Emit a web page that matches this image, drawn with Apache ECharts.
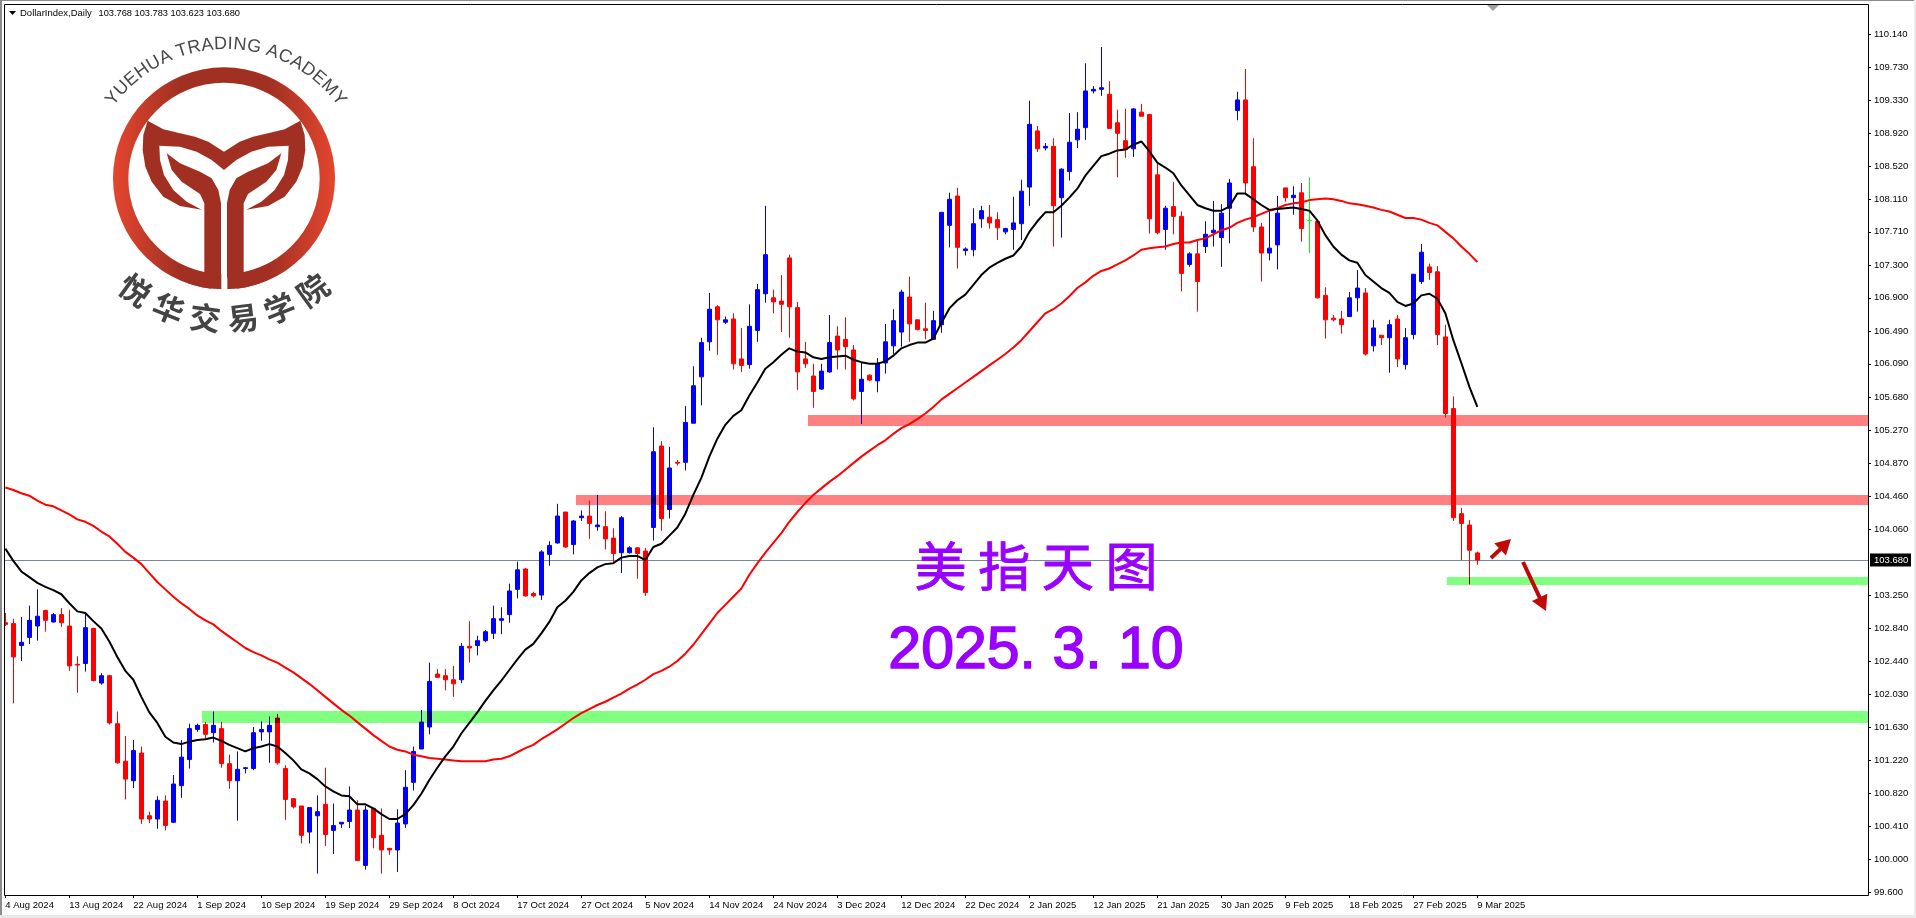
<!DOCTYPE html>
<html>
<head>
<meta charset="utf-8">
<title>DollarIndex,Daily</title>
<style>
html, body { margin: 0; padding: 0; background: #fff; }
#main { width: 1916px; height: 918px; }
</style>
<script src="https://cdn.jsdelivr.net/npm/echarts@6/dist/echarts.min.js"></script>
</head>
<body>
<div id="main"></div>
<script>
// labels under the chart, one every 8 bars
const tickDates = ['4 Aug 2024', '13 Aug 2024', '22 Aug 2024', '1 Sep 2024', '10 Sep 2024', '19 Sep 2024', '29 Sep 2024', '8 Oct 2024',
    '17 Oct 2024', '27 Oct 2024', '5 Nov 2024', '14 Nov 2024', '24 Nov 2024', '3 Dec 2024', '12 Dec 2024', '22 Dec 2024',
    '2 Jan 2025', '12 Jan 2025', '21 Jan 2025', '30 Jan 2025', '9 Feb 2025', '18 Feb 2025', '27 Feb 2025', '9 Mar 2025'];
const priceTicks = [110.14, 109.73, 109.33, 108.92, 108.52, 108.11, 107.71, 107.30, 106.90, 106.49, 106.09, 105.68, 105.27, 104.87,
    104.46, 104.06, 103.25, 102.84, 102.44, 102.03, 101.63, 101.22, 100.82, 100.41, 100.00, 99.60];

const opens = [102.91, 102.90, 102.63, 102.73, 102.87, 103.06, 102.92, 103.01, 102.87, 102.40,
    102.41, 102.84, 102.17, 102.26, 101.67, 101.21, 100.97, 101.31, 100.54, 100.50,
    100.72, 100.46, 100.91, 101.23, 101.60, 101.66, 101.56, 101.61, 101.18, 100.97,
    101.12, 101.12, 101.57, 101.57, 101.74, 101.12, 100.75, 100.66, 100.34, 100.54,
    100.68, 100.36, 100.44, 100.47, 100.61, 99.93, 100.63, 100.30, 100.14, 100.12,
    100.44, 100.95, 101.36, 101.63, 102.28, 102.26, 102.21, 102.21, 102.62, 102.63,
    102.69, 102.78, 102.94, 103.01, 103.32, 103.57, 103.27, 103.25, 103.75, 103.89,
    104.27, 103.87, 104.20, 104.22, 104.09, 104.09, 103.95, 103.77, 103.77, 103.83,
    103.79, 104.08, 105.08, 104.30, 104.88, 104.88, 105.36, 105.93, 106.36, 106.79,
    106.60, 106.64, 106.15, 106.08, 106.50, 106.95, 106.90, 106.86, 107.39, 106.78,
    106.15, 105.94, 105.78, 105.99, 106.43, 106.39, 106.26, 105.75, 105.95, 105.88,
    106.10, 106.31, 106.48, 106.91, 106.63, 106.52, 106.39, 106.57, 107.79, 108.15,
    107.48, 107.49, 107.87, 107.89, 107.86, 107.71, 107.74, 107.81, 108.26, 108.95,
    108.74, 108.76, 108.13, 108.45, 108.84, 108.99, 109.44, 109.46, 109.40, 109.05,
    108.83, 108.73, 109.18, 109.15, 108.41, 107.74, 108.02, 107.90, 107.31, 107.44,
    107.53, 107.70, 107.64, 108.00, 109.20, 109.33, 108.51, 107.77, 107.45, 107.55,
    108.25, 108.13, 108.19, 107.85, 107.84, 106.93, 106.65, 106.64, 106.67, 106.90,
    106.96, 106.31, 106.44, 106.41, 106.64, 106.08, 106.45, 107.10, 107.28, 107.22,
    106.42, 105.54, 104.25, 104.11, 103.768];
const closes = [102.89, 102.49, 102.67, 102.94, 102.99, 102.94, 103.01, 102.91, 102.38, 102.39,
    102.85, 102.20, 102.26, 101.68, 101.19, 100.99, 101.34, 100.50, 100.50, 100.73,
    100.42, 100.93, 101.26, 101.61, 101.65, 101.54, 101.65, 101.18, 100.97, 101.11,
    101.13, 101.56, 101.60, 101.65, 101.19, 100.74, 100.65, 100.30, 100.64, 100.59,
    100.31, 100.42, 100.46, 100.61, 99.99, 100.61, 100.27, 100.12, 100.12, 100.45,
    100.89, 101.33, 101.69, 102.19, 102.24, 102.21, 102.16, 102.62, 102.60, 102.69,
    102.80, 102.96, 102.96, 103.30, 103.56, 103.24, 103.24, 103.78, 103.86, 104.22,
    103.84, 104.16, 104.22, 104.13, 104.11, 103.94, 103.76, 104.20, 103.83, 103.76,
    103.28, 105.01, 104.19, 104.81, 104.87, 105.37, 105.82, 106.35, 106.76, 106.63,
    106.63, 106.09, 106.07, 106.55, 107.00, 107.43, 106.85, 106.82, 106.79, 105.99,
    106.09, 105.75, 106.00, 106.35, 106.26, 106.30, 105.66, 105.90, 105.89, 106.09,
    106.36, 106.62, 106.97, 106.58, 106.51, 106.50, 106.62, 107.95, 108.11, 107.52,
    107.50, 107.81, 107.97, 107.82, 107.76, 107.75, 107.82, 108.21, 109.03, 108.73,
    108.76, 108.03, 108.48, 108.81, 108.97, 109.44, 109.46, 109.48, 108.98, 108.92,
    108.72, 109.22, 109.13, 107.87, 107.70, 108.00, 107.90, 107.20, 107.44, 107.10,
    107.68, 107.73, 107.94, 108.31, 109.33, 108.31, 107.77, 107.45, 107.51, 107.94,
    108.13, 108.16, 107.75, 107.85, 106.90, 106.63, 106.63, 106.57, 106.90, 107.02,
    106.21, 106.53, 106.41, 106.57, 106.15, 106.41, 107.19, 107.46, 107.21, 106.45,
    105.48, 104.20, 104.13, 103.80, 103.680];
const lows = [102.87, 101.92, 102.44, 102.65, 102.69, 102.80, 102.91, 102.86, 102.32, 102.05,
    102.31, 102.19, 102.15, 101.66, 101.18, 100.74, 100.88, 100.44, 100.45, 100.38,
    100.36, 100.45, 100.76, 101.12, 101.57, 101.48, 101.44, 101.13, 100.87, 100.48,
    101.06, 101.10, 101.46, 101.19, 101.17, 100.49, 100.63, 100.20, 100.20, 99.83,
    100.17, 100.07, 100.39, 100.39, 99.99, 99.88, 100.14, 99.83, 100.06, 99.85,
    100.39, 100.85, 101.36, 101.54, 102.23, 102.08, 102.00, 102.17, 102.42, 102.51,
    102.67, 102.71, 102.77, 102.91, 103.21, 103.23, 103.22, 103.19, 103.61, 103.88,
    103.83, 103.75, 104.16, 103.94, 104.04, 103.81, 103.64, 103.52, 103.76, 103.45,
    103.24, 103.92, 104.04, 104.19, 104.84, 104.78, 105.36, 105.58, 106.25, 106.20,
    106.58, 106.02, 105.99, 106.03, 106.36, 106.84, 106.71, 106.48, 106.41, 105.77,
    106.04, 105.55, 105.77, 105.98, 106.02, 106.02, 105.64, 105.35, 105.88, 105.74,
    105.97, 106.21, 106.30, 106.36, 106.50, 106.39, 106.39, 106.47, 107.52, 107.26,
    107.42, 107.41, 107.76, 107.75, 107.61, 107.68, 107.49, 107.61, 108.03, 108.69,
    108.71, 107.53, 107.64, 108.34, 108.74, 108.84, 109.41, 109.38, 108.98, 108.38,
    108.62, 108.63, 109.13, 107.69, 107.68, 107.49, 107.68, 106.98, 107.28, 106.73,
    107.45, 107.53, 107.28, 107.57, 109.08, 108.18, 107.71, 107.10, 107.36, 107.25,
    108.08, 107.92, 107.59, 107.45, 106.89, 106.40, 106.61, 106.46, 106.67, 106.73,
    106.19, 106.24, 106.32, 105.98, 106.05, 106.02, 106.39, 107.07, 107.12, 106.32,
    105.43, 104.16, 103.68, 103.38, 103.623];
const highs = [103.03, 102.96, 102.98, 103.12, 103.32, 103.07, 103.03, 103.09, 103.07, 102.50,
    103.03, 102.85, 102.29, 102.27, 101.82, 101.52, 101.47, 101.39, 100.59, 100.78,
    100.79, 101.04, 101.47, 101.67, 101.67, 101.69, 101.82, 101.69, 101.29, 101.33,
    101.14, 101.63, 101.70, 101.76, 101.79, 101.16, 100.75, 100.66, 100.64, 100.79,
    101.13, 100.69, 100.46, 100.90, 100.73, 100.66, 100.63, 100.63, 100.14, 100.62,
    101.10, 101.39, 101.84, 102.42, 102.34, 102.34, 102.38, 102.66, 102.93, 102.75,
    102.82, 103.12, 103.10, 103.39, 103.66, 103.58, 103.29, 103.80, 103.91, 104.37,
    104.27, 104.17, 104.29, 104.41, 104.48, 104.28, 104.07, 104.22, 103.85, 103.84,
    103.83, 105.31, 105.14, 105.07, 104.91, 105.57, 106.06, 106.41, 106.96, 106.81,
    106.67, 106.71, 106.53, 106.82, 107.07, 108.03, 107.00, 107.18, 107.43, 106.85,
    106.36, 106.09, 106.09, 106.69, 106.55, 106.66, 106.32, 106.10, 105.96, 106.16,
    106.58, 106.76, 107.00, 107.16, 106.63, 106.84, 106.74, 107.95, 108.19, 108.25,
    107.52, 108.00, 108.03, 108.04, 107.95, 107.76, 108.14, 108.35, 109.32, 109.01,
    108.80, 108.86, 108.49, 109.17, 109.18, 109.78, 109.50, 109.98, 109.56, 109.21,
    109.22, 109.23, 109.28, 109.16, 108.55, 108.03, 108.32, 107.96, 107.46, 107.60,
    107.84, 108.09, 108.05, 108.36, 109.43, 109.71, 108.86, 107.82, 107.98, 108.15,
    108.25, 108.27, 108.31, 108.38, 107.84, 107.03, 106.69, 106.74, 106.97, 107.24,
    107.02, 106.63, 106.44, 106.63, 106.69, 106.53, 107.19, 107.56, 107.32, 107.29,
    106.57, 105.69, 104.32, 104.17, 103.783];

const maFast = [103.82, 103.67, 103.54, 103.47, 103.40, 103.35, 103.31, 103.26, 103.15, 103.05,
    103.03, 102.93, 102.84, 102.68, 102.49, 102.32, 102.21, 102.00, 101.81, 101.68,
    101.51, 101.44, 101.42, 101.45, 101.47, 101.48, 101.50, 101.46, 101.41, 101.37,
    101.33, 101.37, 101.39, 101.42, 101.39, 101.31, 101.22, 101.11, 101.06, 100.99,
    100.90, 100.84, 100.79, 100.78, 100.68, 100.68, 100.63, 100.56, 100.50, 100.50,
    100.56, 100.67, 100.81, 100.98, 101.13, 101.27, 101.39, 101.55, 101.68, 101.81,
    101.95, 102.08, 102.20, 102.33, 102.46, 102.58, 102.65, 102.78, 102.92, 103.10,
    103.18, 103.29, 103.43, 103.52, 103.59, 103.63, 103.64, 103.71, 103.73, 103.73,
    103.68, 103.84, 103.88, 103.98, 104.08, 104.25, 104.48, 104.69, 104.95, 105.17,
    105.34, 105.45, 105.52, 105.70, 105.86, 106.03, 106.11, 106.20, 106.28, 106.24,
    106.23, 106.17, 106.15, 106.17, 106.18, 106.19, 106.14, 106.11, 106.09, 106.09,
    106.12, 106.19, 106.28, 106.32, 106.35, 106.35, 106.40, 106.59, 106.77, 106.87,
    106.94, 107.06, 107.18, 107.27, 107.33, 107.38, 107.42, 107.53, 107.71, 107.84,
    107.95, 107.95, 108.03, 108.13, 108.24, 108.40, 108.52, 108.64, 108.67, 108.71,
    108.72, 108.78, 108.82, 108.70, 108.56, 108.50, 108.43, 108.28, 108.16, 108.04,
    108.00, 107.97, 107.97, 108.02, 108.18, 108.18, 108.11, 108.04, 107.98, 107.99,
    108.00, 108.01, 107.99, 107.97, 107.85, 107.67, 107.53, 107.43, 107.36, 107.33,
    107.18, 107.10, 107.02, 106.96, 106.85, 106.80, 106.83, 106.93, 106.95, 106.89,
    106.71, 106.38, 106.10, 105.81, 105.56];
const maSlow = [104.57, 104.54, 104.50, 104.47, 104.41, 104.36, 104.34, 104.29, 104.24, 104.18,
    104.15, 104.10, 104.03, 103.97, 103.88, 103.78, 103.71, 103.63, 103.52, 103.41,
    103.32, 103.23, 103.15, 103.08, 103.00, 102.94, 102.89, 102.81, 102.74, 102.67,
    102.60, 102.55, 102.51, 102.46, 102.42, 102.36, 102.30, 102.23, 102.16, 102.08,
    102.00, 101.92, 101.84, 101.77, 101.69, 101.61, 101.53, 101.46, 101.39, 101.35,
    101.33, 101.29, 101.27, 101.25, 101.24, 101.23, 101.22, 101.21, 101.21, 101.21,
    101.21, 101.23, 101.24, 101.27, 101.32, 101.37, 101.41, 101.48, 101.54, 101.60,
    101.67, 101.74, 101.80, 101.85, 101.90, 101.94, 101.99, 102.04, 102.10, 102.15,
    102.21, 102.28, 102.32, 102.37, 102.44, 102.53, 102.64, 102.77, 102.90, 103.03,
    103.13, 103.23, 103.33, 103.50, 103.64, 103.77, 103.89, 104.01, 104.15, 104.27,
    104.38, 104.48, 104.56, 104.64, 104.71, 104.79, 104.87, 104.95, 105.02, 105.09,
    105.15, 105.23, 105.30, 105.35, 105.41, 105.48, 105.56, 105.65, 105.72, 105.79,
    105.86, 105.93, 106.00, 106.07, 106.14, 106.21, 106.29, 106.38, 106.49, 106.60,
    106.71, 106.76, 106.83, 106.92, 107.02, 107.09, 107.17, 107.23, 107.26, 107.31,
    107.36, 107.42, 107.49, 107.51, 107.52, 107.53, 107.56, 107.58, 107.58, 107.61,
    107.63, 107.68, 107.73, 107.76, 107.82, 107.86, 107.89, 107.93, 107.97, 108.00,
    108.04, 108.06, 108.07, 108.10, 108.11, 108.12, 108.11, 108.09, 108.06, 108.05,
    108.03, 108.01, 107.98, 107.96, 107.92, 107.88, 107.88, 107.86, 107.82, 107.79,
    107.71, 107.63, 107.53, 107.44, 107.34];

const lastPrice = 103.680;
// support / resistance bands: first bar, upper price, lower price
const zoneStarts = [100.33, 71.33, 180.2, 24.58];
const zoneTops = [105.461, 104.479, 103.472, 101.826];
const zoneBottoms = [105.326, 104.356, 103.373, 101.679];
const zoneColors = ['#ff8080', '#ff8080', '#80ff80', '#80ff80'];

const BAR_STEP = 8;
const BAR_SLOTS = 233;
const PLOT_LEFT = 4;
const PLOT_RIGHT = 1868;
const PLOT_TOP = 4;
const PLOT_BOTTOM = 895;

const uiFont = '"Liberation Sans", Arial, sans-serif';

const categories = [];
for (let i = 0; i < BAR_SLOTS; i++) {
    categories.push(i % BAR_STEP === 0 && tickDates[i / BAR_STEP] ? tickDates[i / BAR_STEP] : String(i));
}
const candles = opens.map(function (o, i) {
    return [o, closes[i], lows[i], highs[i]];
});
const isDateTick = function (i) {
    return i % BAR_STEP === 0 && i / BAR_STEP < tickDates.length;
};

function renderZone(params, api) {
    const band = api.size([1, 0])[0];
    const top = api.coord([api.value(0), api.value(1)]);
    const bottom = api.coord([api.value(0), api.value(2)]);
    const left = top[0] + api.value(3) * band;
    return {
        type: 'rect',
        shape: { x: left, y: Math.round(top[1]), width: PLOT_RIGHT - left, height: Math.round(bottom[1]) - Math.round(top[1]) },
        style: { fill: zoneColors[params.dataIndex] }
    };
}

function renderPriceLine(params, api) {
    const y = Math.round(api.coord([0, api.value(1)])[1]) + 0.5;
    return {
        type: 'group',
        children: [{
            type: 'line',
            shape: { x1: PLOT_LEFT, y1: y, x2: PLOT_RIGHT, y2: y },
            style: { stroke: '#778899', lineWidth: 1 }
        }, {
            type: 'rect',
            shape: { x: PLOT_RIGHT + 2, y: y - 7, width: 41, height: 13 },
            style: { fill: '#000' }
        }, {
            type: 'text',
            style: { x: PLOT_RIGHT + 6, y: y, text: api.value(1).toFixed(3), fill: '#fff', font: '9.5px ' + uiFont, verticalAlign: 'middle' }
        }]
    };
}

// logo is drawn in 3x units, the group scales it down
const tailLeft = [[672, 455], [625, 425], [585, 410], [540, 400], [490, 388], [443, 362], [430, 405], [428, 450], [436, 500], [455, 545], [490, 590], [540, 618], [605, 629],
    [560, 605], [520, 570], [492, 525], [480, 480], [478, 437], [540, 440], [590, 455], [635, 480], [672, 510]];
const stemLeft = [[500, 460], [540, 490], [600, 515], [635, 535], [655, 570], [663, 610], [663, 830], [652, 852], [632, 866], [605, 862], [560, 848], [613, 815], [613, 610], [600, 582], [545, 545], [515, 510]];
const mirrored = function (points) {
    return points.map(function (p) { return [1344 - p[0], p[1]]; });
};

function logoElements() {
    const brand = '#a13022';
    return [{
        type: 'ring',
        shape: { cx: 672, cy: 535, r: 333, r0: 287 },
        style: {
            fill: {
                type: 'linear', x: 0, y: 0, x2: 1, y2: 0,
                colorStops: [{ offset: 0, color: '#e4462f' }, { offset: 0.3, color: brand }, { offset: 0.7, color: brand }, { offset: 1, color: '#e4462f' }]
            }
        }
    },
    { type: 'rect', shape: { x: 664, y: 620, width: 18, height: 260 }, style: { fill: '#fff' } },
    { type: 'polygon', shape: { points: tailLeft }, style: { fill: brand } },
    { type: 'polygon', shape: { points: mirrored(tailLeft) }, style: { fill: brand } },
    { type: 'polygon', shape: { points: stemLeft }, style: { fill: brand } },
    { type: 'polygon', shape: { points: mirrored(stemLeft) }, style: { fill: brand } }];
}

function logoText() {
    const out = [];
    const title = 'YUEHUA TRADING ACADEMY';
    const ctx = document.createElement('canvas').getContext('2d');
    ctx.font = '18px ' + uiFont;
    const total = ctx.measureText(title).width;
    const radius = 135;
    let run = 0;
    for (let i = 0; i < title.length; i++) {
        const w = ctx.measureText(title[i]).width;
        const a = (run + w / 2 - total / 2) / radius;
        run += w;
        out.push({
            type: 'text', x: 226 + radius * Math.sin(a), y: 188 - radius * Math.cos(a), rotation: -a,
            style: { text: title[i], font: '18px ' + uiFont, fill: '#484848', align: 'center', verticalAlign: 'bottom' }
        });
    }
    const cn = '悦华交易学院';
    for (let i = 0; i < cn.length; i++) {
        const a = (-36 + i * 14.4) * Math.PI / 180;
        out.push({
            type: 'text', x: 224 + 151 * Math.sin(a), y: 168 + 151 * Math.cos(a), rotation: a,
            style: { text: cn[i], font: 'bold 31px "Noto Sans CJK SC"', fill: '#444', align: 'center', verticalAlign: 'middle' }
        });
    }
    return out;
}

// hand drawn style arrows: shaft with a head at the tip
function arrow(x1, y1, x2, y2) {
    const len = Math.hypot(x2 - x1, y2 - y1);
    const ux = (x2 - x1) / len, uy = (y2 - y1) / len;
    const nx = -uy, ny = ux;
    const hx = x2 - ux * 15, hy = y2 - uy * 15;
    return {
        type: 'polygon', z: 30,
        shape: {
            points: [[x1 + nx * 2, y1 + ny * 2], [hx + nx * 2, hy + ny * 2], [hx + nx * 8.5, hy + ny * 8.5], [x2, y2],
                [hx - nx * 8.5, hy - ny * 8.5], [hx - nx * 2, hy - ny * 2], [x1 - nx * 2, y1 - ny * 2]]
        },
        style: { fill: '#c00a0a' }
    };
}

const chart = echarts.init(document.getElementById('main'), null, { renderer: 'canvas' });
chart.setOption({
    animation: false,
    backgroundColor: '#fff',
    grid: { left: 1.33, top: PLOT_TOP, width: BAR_SLOTS * BAR_STEP, height: PLOT_BOTTOM - PLOT_TOP, containLabel: false },
    xAxis: {
        type: 'category',
        data: categories,
        boundaryGap: true,
        axisLine: { show: false },
        axisTick: { show: true, interval: function (i) { return isDateTick(i); }, alignWithLabel: true, length: 3, lineStyle: { color: '#000' } },
        axisLabel: {
            interval: function (i) { return isDateTick(i); },
            align: 'left', margin: 5, color: '#000', fontFamily: 'Liberation Sans', fontSize: 9.5,
            hideOverlap: false
        },
        splitLine: { show: false }
    },
    yAxis: {
        type: 'value',
        position: 'right',
        offset: 2.67,
        min: 99.567,
        max: 110.508,
        scale: true,
        axisLine: { show: false },
        axisTick: { show: true, length: 3, customValues: priceTicks, lineStyle: { color: '#000' } },
        axisLabel: {
            customValues: priceTicks, margin: 6, color: '#000', fontFamily: 'Liberation Sans', fontSize: 9.5,
            formatter: function (v) { return v.toFixed(3); }
        },
        splitLine: { show: false }
    },
    series: [{
        type: 'custom',
        name: 'price',
        z: 1,
        clip: false,
        renderItem: renderPriceLine,
        encode: { x: 0, y: 1 },
        data: [[0, lastPrice]]
    }, {
        type: 'candlestick',
        name: 'DollarIndex',
        z: 2,
        barWidth: 4,
        data: candles,
        itemStyle: { color: '#0000ff', color0: '#ff0000', borderColor: '#0000ff', borderColor0: '#ff0000', borderColorDoji: '#00ff00', borderWidth: 1 }
    }, {
        type: 'custom',
        name: 'zones',
        z: 3,
        clip: false,
        blendMode: 'multiply',
        renderItem: renderZone,
        encode: { x: 0, y: [1, 2] },
        data: zoneStarts.map(function (s, i) { return [Math.floor(s), zoneTops[i], zoneBottoms[i], s - Math.floor(s)]; })
    }, {
        type: 'line',
        name: 'slow',
        z: 4,
        data: maSlow,
        showSymbol: false,
        smooth: false,
        lineStyle: { color: '#ff0000', width: 2 }
    }, {
        type: 'line',
        name: 'fast',
        z: 5,
        data: maFast,
        showSymbol: false,
        smooth: false,
        lineStyle: { color: '#000000', width: 2 }
    }],
    graphic: { elements: [
        { type: 'rect', z: 20, shape: { x: 0, y: 0, width: PLOT_LEFT, height: 918 }, style: { fill: '#fff' } },
        { type: 'rect', z: 21, shape: { x: 0, y: 0, width: 2, height: 918 }, style: { fill: '#8c8c8c' } },
        { type: 'rect', z: 21, shape: { x: 0, y: 0, width: 1916, height: 1 }, style: { fill: '#8c8c8c' } },
        { type: 'rect', z: 21, shape: { x: 0, y: 915, width: 1916, height: 3 }, style: { fill: '#e8e8e8' } },
        { type: 'rect', z: 21, shape: { x: 1914, y: 0, width: 2, height: 918 }, style: { fill: '#ececec' } },
        { type: 'rect', z: 22, shape: { x: PLOT_LEFT + 0.5, y: PLOT_TOP + 0.5, width: PLOT_RIGHT - PLOT_LEFT, height: PLOT_BOTTOM - PLOT_TOP }, style: { fill: null, stroke: '#000', lineWidth: 1 } },
        { type: 'polygon', z: 23, shape: { points: [[1487, 5], [1499, 5], [1493, 11]] }, style: { fill: '#a0a0a0' } },
        { type: 'polygon', z: 23, shape: { points: [[9, 11], [16, 11], [12.5, 15]] }, style: { fill: '#000' } },
        { type: 'text', z: 23, x: 20, y: 13, style: { text: 'DollarIndex,Daily', font: '9.5px ' + uiFont, fill: '#000', verticalAlign: 'middle' } },
        { type: 'text', z: 23, x: 98.5, y: 13, style: { text: '103.768 103.783 103.623 103.680', font: '9.25px ' + uiFont, fill: '#000', verticalAlign: 'middle' } },
        { type: 'text', z: 24, x: 1036, y: 566, style: { text: '美 指 天 图', font: '52px "Noto Sans CJK SC"', fill: '#9900ff', stroke: '#9900ff', lineWidth: 1, align: 'center', verticalAlign: 'middle' } },
        { type: 'text', z: 24, x: 1036, y: 652, style: { text: '2025. 3. 10', font: '59px "Liberation Sans"', fill: '#9900ff', stroke: '#9900ff', lineWidth: 1.5, align: 'center', verticalAlign: 'middle' } },
        arrow(1491, 558, 1511, 539),
        arrow(1523, 562, 1546, 611),
        { type: 'group', z: 25, x: 0, y: 0, scaleX: 1 / 3, scaleY: 1 / 3, children: logoElements() },
        { type: 'group', z: 25, children: logoText() }
    ] }
});
</script>
</body>
</html>
